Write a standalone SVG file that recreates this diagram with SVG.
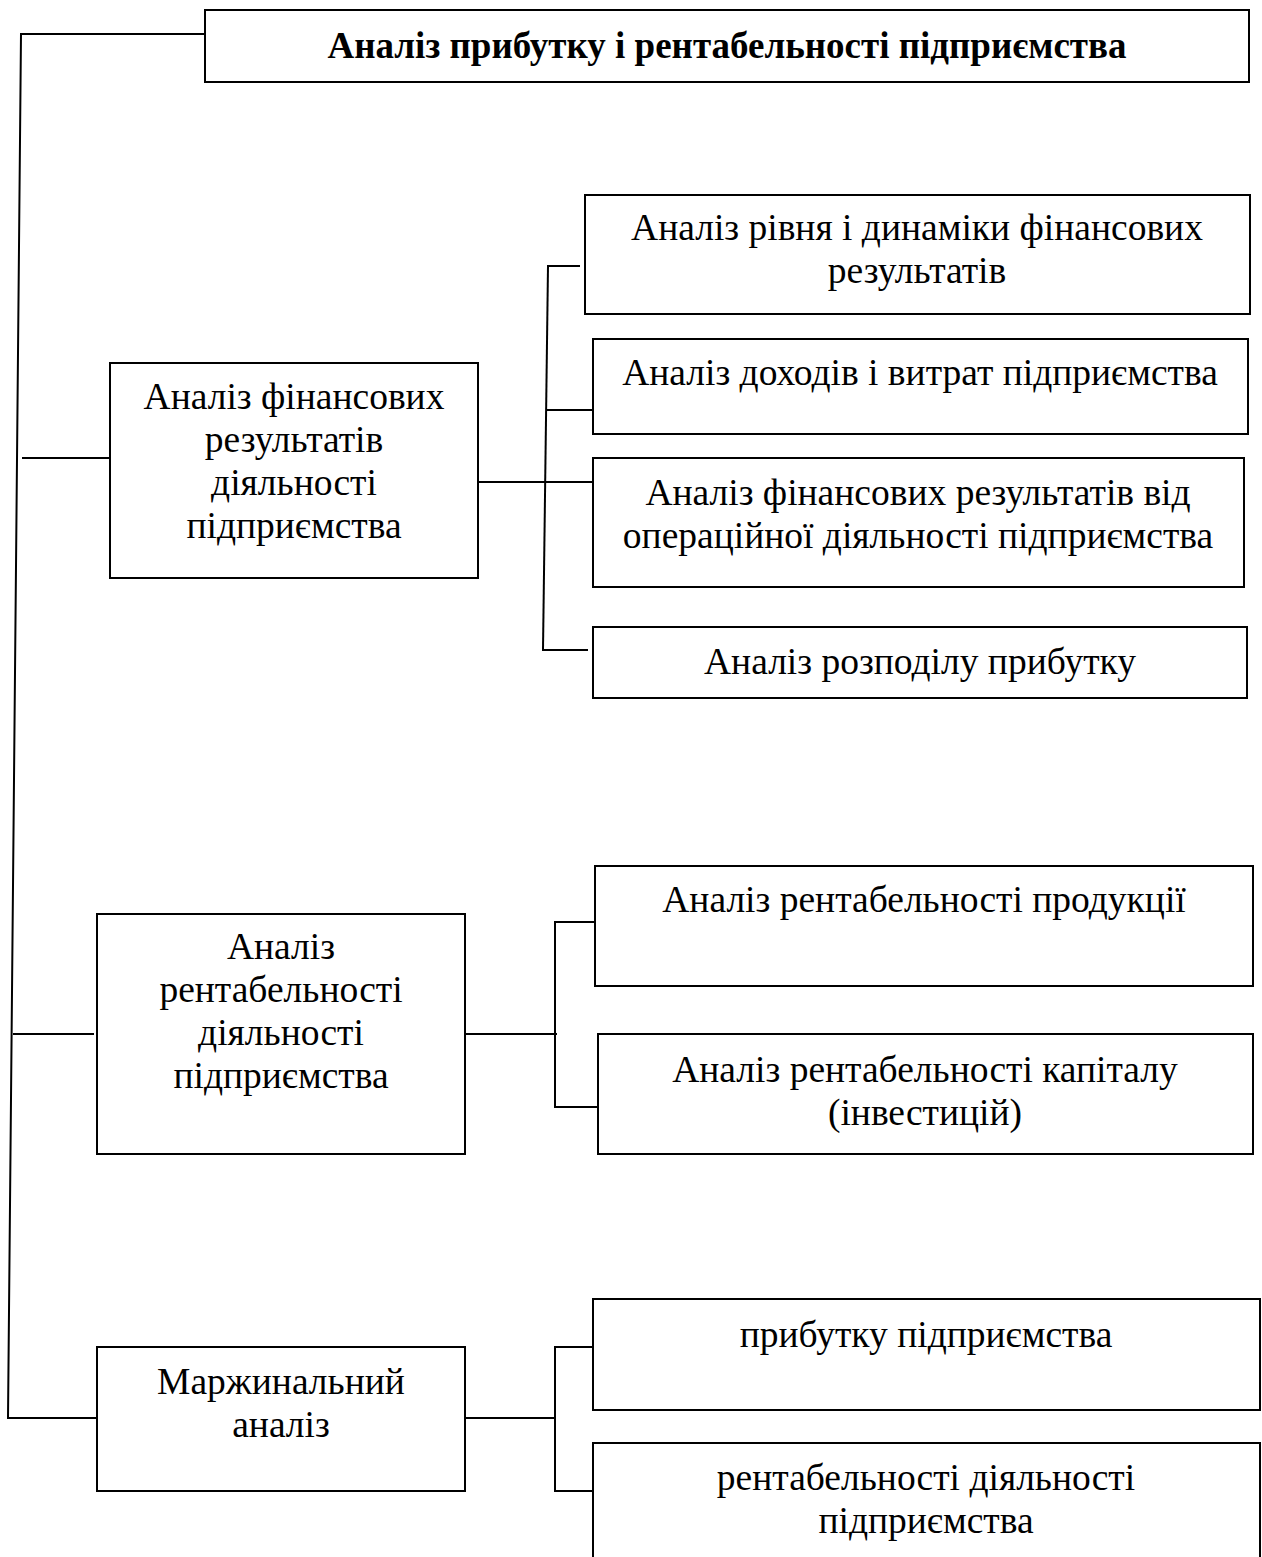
<svg xmlns="http://www.w3.org/2000/svg" width="1262" height="1557" viewBox="0 0 1262 1557">
<style>
.box{fill:#fff;stroke:#000;stroke-width:2}
.ln{fill:none;stroke:#000;stroke-width:2}
text{font-family:"Liberation Serif","Times New Roman",serif;font-size:37.5px;fill:#000;text-anchor:middle}
.title{font-weight:bold;font-size:37px}
</style>
<rect x="0" y="0" width="1262" height="1557" fill="#fff"/>
<g id="connectors">
<polyline class="ln" points="205,34 21,34 8,1418 97,1418"/>
<line class="ln" x1="22" y1="458" x2="110" y2="458"/>
<line class="ln" x1="13" y1="1034" x2="94" y2="1034"/>
<line class="ln" x1="548" y1="266" x2="543" y2="650"/>
<line class="ln" x1="547" y1="266" x2="580" y2="266"/>
<line class="ln" x1="547" y1="410" x2="593" y2="410"/>
<line class="ln" x1="478" y1="482" x2="593" y2="482"/>
<line class="ln" x1="542" y1="650" x2="588" y2="650"/>
<line class="ln" x1="465" y1="1034" x2="557" y2="1034"/>
<polyline class="ln" points="595,922 555,922 555,1107 600,1107"/>
<line class="ln" x1="465" y1="1418" x2="555" y2="1418"/>
<polyline class="ln" points="593,1347 555,1347 555,1491 593,1491"/>
</g>
<g id="root">
<rect class="box" x="205" y="10" width="1044" height="72"/>
<text class="title" x="727" y="58">Аналіз прибутку і рентабельності підприємства</text>
</g>
<g id="finres">
<rect class="box" x="110" y="363" width="368" height="215"/>
<text x="294" y="409">Аналіз фінансових</text>
<text x="294" y="452">результатів</text>
<text x="294" y="495">діяльності</text>
<text x="294" y="538">підприємства</text>
</g>
<g id="rivn">
<rect class="box" x="585" y="195" width="665" height="119"/>
<text x="917" y="240">Аналіз рівня і динаміки фінансових</text>
<text x="917" y="283">результатів</text>
</g>
<g id="dohody">
<rect class="box" x="593" y="339" width="655" height="95"/>
<text x="920" y="385">Аналіз доходів і витрат підприємства</text>
</g>
<g id="operac">
<rect class="box" x="593" y="458" width="651" height="129"/>
<text x="918" y="505">Аналіз фінансових результатів від</text>
<text x="918" y="548">операційної діяльності підприємства</text>
</g>
<g id="rozpodil">
<rect class="box" x="593" y="627" width="654" height="71"/>
<text x="920" y="674">Аналіз розподілу прибутку</text>
</g>
<g id="rentab">
<rect class="box" x="97" y="914" width="368" height="240"/>
<text x="281" y="959">Аналіз</text>
<text x="281" y="1002">рентабельності</text>
<text x="281" y="1045">діяльності</text>
<text x="281" y="1088">підприємства</text>
</g>
<g id="produkc">
<rect class="box" x="595" y="866" width="658" height="120"/>
<text x="924" y="912">Аналіз рентабельності продукції</text>
</g>
<g id="kapital">
<rect class="box" x="598" y="1034" width="655" height="120"/>
<text x="925" y="1082">Аналіз рентабельності капіталу</text>
<text x="925" y="1125">(інвестицій)</text>
</g>
<g id="marzh">
<rect class="box" x="97" y="1347" width="368" height="144"/>
<text x="281" y="1394">Маржинальний</text>
<text x="281" y="1437">аналіз</text>
</g>
<g id="prybutok">
<rect class="box" x="593" y="1299" width="667" height="111"/>
<text x="926" y="1347">прибутку підприємства</text>
</g>
<g id="rentdiyal">
<rect class="box" x="593" y="1443" width="667" height="160"/>
<text x="926" y="1490">рентабельності діяльності</text>
<text x="926" y="1533">підприємства</text>
</g>
</svg>
